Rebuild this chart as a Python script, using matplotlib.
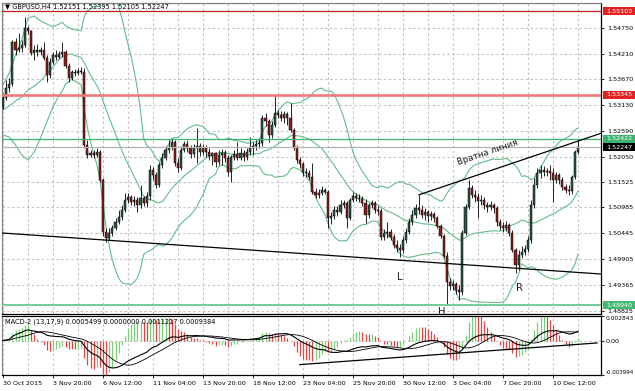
import numpy as np
import pandas as pd
import matplotlib
matplotlib.use("Agg")
import matplotlib.pyplot as plt
from matplotlib.transforms import blended_transform_factory
from matplotlib.patches import Rectangle

plt.rcParams['font.family'] = ['DejaVu Sans']

# ---------------- data ----------------
symbol = "GBPUSD,H4"

opens = [
    1.5309, 1.5328, 1.5349, 1.5357, 1.5445, 1.5429, 1.5433, 1.5439, 1.5475, 1.5468,
    1.5422, 1.5429, 1.5424, 1.5429, 1.5412, 1.5376, 1.5403, 1.5418, 1.5414, 1.5420,
    1.5424, 1.5395, 1.5370, 1.5382, 1.5380, 1.5385, 1.5382, 1.5229, 1.5209, 1.5213,
    1.5209, 1.5215, 1.5156, 1.5047, 1.5035, 1.5045, 1.5056, 1.5068, 1.5079, 1.5093,
    1.5114, 1.5120, 1.5110, 1.5114, 1.5104, 1.5118, 1.5108, 1.5123, 1.5177, 1.5167,
    1.5146, 1.5188, 1.5202, 1.5219, 1.5225, 1.5236, 1.5192, 1.5181, 1.5219, 1.5232,
    1.5223, 1.5211, 1.5223, 1.5227, 1.5215, 1.5223, 1.5215, 1.5206, 1.5213, 1.5194,
    1.5209, 1.5213, 1.5202, 1.5173, 1.5204, 1.5211, 1.5202, 1.5213, 1.5204, 1.5215,
    1.5223, 1.5227, 1.5232, 1.5234, 1.5286, 1.5280, 1.5250, 1.5271, 1.5297, 1.5292,
    1.5286, 1.5294, 1.5286, 1.5261, 1.5223, 1.5198, 1.5190, 1.5173, 1.5171, 1.5162,
    1.5131, 1.5125, 1.5129, 1.5135, 1.5131, 1.5076, 1.5081, 1.5093, 1.5089, 1.5104,
    1.5108, 1.5076, 1.5114, 1.5123, 1.5118, 1.5116, 1.5108, 1.5083, 1.5104, 1.5108,
    1.5093, 1.5091, 1.5037, 1.5045, 1.5047, 1.5037, 1.5020, 1.5014, 1.5009, 1.5030,
    1.5047, 1.5068, 1.5083, 1.5097, 1.5093, 1.5083, 1.5089, 1.5081, 1.5085, 1.5076,
    1.5060, 1.5039, 1.4997, 1.4942, 1.4934, 1.4938, 1.4926, 1.4921, 1.5045, 1.5100,
    1.5139, 1.5125, 1.5120, 1.5112, 1.5114, 1.5104, 1.5100, 1.5104, 1.5097, 1.5068,
    1.5060, 1.5056, 1.5062, 1.5045, 1.5009, 1.4978, 1.4999, 1.5005, 1.5011, 1.5030,
    1.5104, 1.5146, 1.5171, 1.5177, 1.5173, 1.5175, 1.5171, 1.5156, 1.5167, 1.5156,
    1.5141, 1.5135, 1.5133, 1.5162, 1.52151]

highs = [
    1.5338, 1.5366, 1.5370, 1.5450, 1.5454, 1.5464, 1.5450, 1.5498, 1.5479, 1.5471,
    1.5439, 1.5441, 1.5435, 1.5445, 1.5418, 1.5412, 1.5424, 1.5429, 1.5427, 1.5445,
    1.5429, 1.5401, 1.5387, 1.5389, 1.5391, 1.5393, 1.5391, 1.5240, 1.5219, 1.5219,
    1.5223, 1.5219, 1.5160, 1.5056, 1.5056, 1.5062, 1.5076, 1.5093, 1.5104, 1.5129,
    1.5129, 1.5125, 1.5123, 1.5120, 1.5146, 1.5123, 1.5131, 1.5188, 1.5183, 1.5173,
    1.5194, 1.5213, 1.5227, 1.5240, 1.5244, 1.5240, 1.5202, 1.5227, 1.5238, 1.5240,
    1.5229, 1.5232, 1.5265, 1.5234, 1.5232, 1.5229, 1.5223, 1.5215, 1.5215, 1.5219,
    1.5221, 1.5219, 1.5209, 1.5209, 1.5219, 1.5236, 1.5223, 1.5219, 1.5223, 1.5246,
    1.5236, 1.5240, 1.5244, 1.5292, 1.5297, 1.5284, 1.5280, 1.5334, 1.5303, 1.5301,
    1.5301, 1.5299, 1.5318, 1.5265, 1.5229, 1.5204, 1.5194, 1.5181, 1.5177, 1.5192,
    1.5139, 1.5137, 1.5144, 1.5139, 1.5135, 1.5089, 1.5102, 1.5102, 1.5114, 1.5114,
    1.5112, 1.5118, 1.5131, 1.5129, 1.5127, 1.5123, 1.5116, 1.5108, 1.5114, 1.5112,
    1.5102, 1.5097, 1.5053, 1.5068, 1.5053, 1.5043, 1.5030, 1.5022, 1.5039, 1.5056,
    1.5076, 1.5093, 1.5106, 1.5125, 1.5104, 1.5097, 1.5093, 1.5091, 1.5089, 1.5081,
    1.5064, 1.5043, 1.5005, 1.4951, 1.4947, 1.4942, 1.4936, 1.5051, 1.5106, 1.5156,
    1.5146, 1.5135, 1.5129, 1.5125, 1.5120, 1.5110, 1.5112, 1.5108, 1.5102, 1.5074,
    1.5068, 1.5070, 1.5066, 1.5051, 1.5014, 1.5009, 1.5018, 1.5020, 1.5039, 1.5114,
    1.5160, 1.5181, 1.5188, 1.5185, 1.5181, 1.5188, 1.5181, 1.5173, 1.5171, 1.5162,
    1.5148, 1.5146, 1.5167, 1.5219, 1.52395]

lows = [
    1.5305, 1.5324, 1.5341, 1.5353, 1.5418, 1.5424, 1.5424, 1.5435, 1.5462, 1.5418,
    1.5408, 1.5416, 1.5418, 1.5408, 1.5362, 1.5370, 1.5399, 1.5408, 1.5410, 1.5414,
    1.5391, 1.5362, 1.5366, 1.5374, 1.5376, 1.5378, 1.5223, 1.5202, 1.5204, 1.5202,
    1.5204, 1.5152, 1.5039, 1.5026, 1.5030, 1.5039, 1.5051, 1.5064, 1.5072, 1.5089,
    1.5108, 1.5104, 1.5102, 1.5089, 1.5097, 1.5102, 1.5100, 1.5114, 1.5156, 1.5139,
    1.5141, 1.5181, 1.5198, 1.5213, 1.5219, 1.5185, 1.5173, 1.5177, 1.5215, 1.5215,
    1.5202, 1.5204, 1.5192, 1.5206, 1.5209, 1.5204, 1.5198, 1.5188, 1.5183, 1.5188,
    1.5188, 1.5194, 1.5165, 1.5152, 1.5198, 1.5198, 1.5198, 1.5196, 1.5198, 1.5209,
    1.5209, 1.5219, 1.5223, 1.5227, 1.5269, 1.5236, 1.5244, 1.5267, 1.5286, 1.5280,
    1.5276, 1.5271, 1.5257, 1.5219, 1.5192, 1.5181, 1.5165, 1.5162, 1.5156, 1.5127,
    1.5118, 1.5118, 1.5125, 1.5127, 1.5056, 1.5064, 1.5074, 1.5081, 1.5085, 1.5097,
    1.5056, 1.5072, 1.5110, 1.5112, 1.5110, 1.5102, 1.5066, 1.5076, 1.5097, 1.5087,
    1.5083, 1.5030, 1.5030, 1.5035, 1.5030, 1.5014, 1.5005, 1.4995, 1.5003, 1.5024,
    1.5043, 1.5062, 1.5076, 1.5085, 1.5076, 1.5072, 1.5068, 1.5072, 1.5068, 1.5056,
    1.5035, 1.4993, 1.4894, 1.4926, 1.4926, 1.4917, 1.4905, 1.4915, 1.5041, 1.5095,
    1.5118, 1.5110, 1.5076, 1.5104, 1.5095, 1.5089, 1.5093, 1.5087, 1.5060, 1.5051,
    1.5047, 1.5049, 1.5039, 1.5005, 1.4961, 1.4967, 1.4993, 1.4999, 1.5005, 1.5024,
    1.5097, 1.5139, 1.5160, 1.5165, 1.5165, 1.5156, 1.5110, 1.5150, 1.5148, 1.5135,
    1.5129, 1.5125, 1.5127, 1.5158, 1.52105]

closes = [
    1.5328, 1.5349, 1.5357, 1.5445, 1.5429, 1.5433, 1.5439, 1.5475, 1.5468, 1.5422,
    1.5429, 1.5424, 1.5429, 1.5412, 1.5376, 1.5403, 1.5418, 1.5414, 1.5420, 1.5424,
    1.5395, 1.5370, 1.5382, 1.5380, 1.5385, 1.5382, 1.5229, 1.5209, 1.5213, 1.5209,
    1.5215, 1.5156, 1.5047, 1.5035, 1.5045, 1.5056, 1.5068, 1.5079, 1.5093, 1.5114,
    1.5120, 1.5110, 1.5114, 1.5104, 1.5118, 1.5108, 1.5123, 1.5177, 1.5167, 1.5146,
    1.5188, 1.5202, 1.5219, 1.5225, 1.5236, 1.5192, 1.5181, 1.5219, 1.5232, 1.5223,
    1.5211, 1.5223, 1.5227, 1.5215, 1.5223, 1.5215, 1.5206, 1.5213, 1.5194, 1.5209,
    1.5213, 1.5202, 1.5173, 1.5204, 1.5211, 1.5202, 1.5213, 1.5204, 1.5215, 1.5223,
    1.5227, 1.5232, 1.5234, 1.5286, 1.5280, 1.5250, 1.5271, 1.5297, 1.5292, 1.5286,
    1.5294, 1.5286, 1.5261, 1.5223, 1.5198, 1.5190, 1.5173, 1.5171, 1.5162, 1.5131,
    1.5125, 1.5129, 1.5135, 1.5131, 1.5076, 1.5081, 1.5093, 1.5089, 1.5104, 1.5108,
    1.5076, 1.5114, 1.5123, 1.5118, 1.5116, 1.5108, 1.5083, 1.5104, 1.5108, 1.5093,
    1.5091, 1.5037, 1.5045, 1.5047, 1.5037, 1.5020, 1.5014, 1.5009, 1.5030, 1.5047,
    1.5068, 1.5083, 1.5097, 1.5093, 1.5083, 1.5089, 1.5081, 1.5085, 1.5076, 1.5060,
    1.5039, 1.4997, 1.4942, 1.4934, 1.4938, 1.4926, 1.4921, 1.5045, 1.5100, 1.5139,
    1.5125, 1.5120, 1.5112, 1.5114, 1.5104, 1.5100, 1.5104, 1.5097, 1.5068, 1.5060,
    1.5056, 1.5062, 1.5045, 1.5009, 1.4978, 1.4999, 1.5005, 1.5011, 1.5030, 1.5104,
    1.5146, 1.5171, 1.5177, 1.5173, 1.5175, 1.5171, 1.5156, 1.5167, 1.5156, 1.5141,
    1.5135, 1.5133, 1.5162, 1.5215, 1.52247]

date_label_bars = [0, 16, 32, 48, 64, 80, 96, 112, 128, 144, 160, 176]
date_labels = ["30 Oct 2015", "3 Nov 20:00", "6 Nov 12:00", "11 Nov 04:00",
               "13 Nov 20:00", "18 Nov 12:00", "23 Nov 04:00", "25 Nov 20:00",
               "30 Nov 12:00", "3 Dec 04:00", "7 Dec 20:00", "10 Dec 12:00"]

price_ticks = [1.54750, 1.54210, 1.53670, 1.53130, 1.52590, 1.52050,
               1.51525, 1.50985, 1.50445, 1.49905, 1.49365, 1.48825]
price_range = [1.48752, 1.55271]

# horizontal levels: top resistance, resistance, green level, bid, support
level_prices = [1.55103, 1.53345, 1.52422, 1.52247, 1.48940]

# Bollinger band values read for the first bars (no history before them)
bb_head_bars = [0, 2, 4, 6, 8, 10, 12, 14, 16, 18]
bb_head_upper = [1.53552, 1.53804, 1.54181, 1.54496, 1.54957, 1.54999, 1.54894, 1.54831, 1.54768, 1.54831]
bb_head_mid = [1.53028, 1.53112, 1.53217, 1.53301, 1.53448, 1.53531, 1.53636, 1.53783, 1.53930, 1.54097]
bb_head_lower = [1.52504, 1.52462, 1.52295, 1.52085, 1.51980, 1.52148, 1.52442, 1.52777, 1.53091, 1.53343]
bb_period, bb_dev = 20, 2.0

support_bars = [-0.32, 191.36]
support_prices = [1.5045, 1.4959]
neck_bars = [133.1, 191.36]
neck_prices = [1.5125, 1.5254]
neck_text = "Вратна линия"
neck_text_bar, neck_text_price = 155.2, 1.5213

pattern_labels = ["L", "H", "R"]
pattern_bars = [127.0, 140.5, 165.4]
pattern_prices = [1.4953, 1.4880, 1.4930]

macd_fast, macd_slow, macd_sig = 13, 17, 9
macd_readout = [0.0005499, 0.0000000, 0.0011217, 0.0009384]
macd_scale = [0.002843, 0.0, -0.003994]
macd_scale_labels = ["0.002843", "0.00", "-0.003994"]
macd_trend_bars = [95.0, 190.1]
macd_trend_vals = [-0.00279, -0.00028]

# ---------------- derived series ----------------
o = np.array(opens); h = np.array(highs); l = np.array(lows); c = np.array(closes)
bars = np.arange(len(c))
cs = pd.Series(c)
mid = cs.rolling(bb_period).mean()
sd = cs.rolling(bb_period).std(ddof=0)
up = mid + bb_dev * sd
lo = mid - bb_dev * sd
start = bb_period - 1
bb_x = list(bb_head_bars) + list(bars[start:])
bb_up = list(bb_head_upper) + list(up[start:])
bb_mid = list(bb_head_mid) + list(mid[start:])
bb_lo = list(bb_head_lower) + list(lo[start:])

ema_f = cs.ewm(span=macd_fast, adjust=False).mean()
ema_s = cs.ewm(span=macd_slow, adjust=False).mean()
macd = ema_f - ema_s
signal = macd.rolling(macd_sig, min_periods=1).mean()
hist = 3.0 * (macd - signal)
rising = hist.diff().fillna(0) >= 0

# ---------------- figure ----------------
W, H = 635, 391
fig = plt.figure(figsize=(W / 100, H / 100), dpi=100)
fig.patch.set_facecolor('white')
ax = fig.add_axes([2 / W, (H - 314) / H, 599 / W, 311 / H])
ax2 = fig.add_axes([2 / W, (H - 375) / H, 599 / W, 59 / H], sharex=ax)

xlim = (-0.32, 191.36)
grid_kw = dict(color='#c4c4c4', linestyle=(0, (2.2, 2.2)), linewidth=0.8)
fs = 4.6

for a in (ax, ax2):
    a.set_facecolor('white')
    for s in ('top', 'bottom', 'right'):
        a.spines[s].set_color('black')
        a.spines[s].set_linewidth(0.9)
    a.spines['left'].set_color('#808080')
    a.spines['left'].set_linewidth(0.8)
    a.yaxis.tick_right()
    a.tick_params(axis='y', which='both', direction='out', length=2.5, width=0.6,
                  pad=2.2, labelsize=fs, colors='black', left=False, right=True)
    a.set_xticks(np.arange(0, 191, 8), minor=True)
    a.grid(True, axis='x', which='both', **grid_kw)
    a.set_axisbelow(True)
ax.spines['top'].set_color('#808080')

ax.set_xlim(*xlim)
ax.set_ylim(*price_range)
ax.set_yticks(price_ticks)
ax.set_yticklabels([f"{p:.5f}" for p in price_ticks])
ax.grid(True, axis='y', **grid_kw)
ax.tick_params(axis='x', which='both', bottom=False, labelbottom=False)

# Bollinger bands
bb_color = '#62bd8a'
for band in (bb_up, bb_mid, bb_lo):
    ax.plot(bb_x, band, color=bb_color, lw=0.8, zorder=2)

# candles
body_colors = np.where(c >= o, '#2f5545', '#8f1d1d')
ax.vlines(bars, l, h, color='black', lw=0.6, zorder=3)
ax.bar(bars, c - o, bottom=o, width=0.66, color=body_colors,
       edgecolor='black', linewidth=0.35, zorder=4)

# horizontal levels
line_styles = [('#c41e1e', 0.9), ('#f07a78', 1.9), ('#3cb371', 0.9), ('#b4b4b4', 0.9), ('#76c99a', 1.4)]
box_colors = ['#e52222', '#e52222', '#3cb371', '#000000', '#45b874']
for p, (lc, lw) in zip(level_prices, line_styles):
    ax.axhline(p, color=lc, lw=lw, zorder=5)

# trend lines
ax.plot(support_bars, support_prices, color='black', lw=0.9, zorder=6)
ax.plot(neck_bars, neck_prices, color='black', lw=0.9, zorder=6)
ax.text(neck_text_bar, neck_text_price, neck_text, fontsize=6.3, color='#202020',
        rotation=18.8, rotation_mode='anchor', ha='center', va='center', zorder=7)
for lab, b, p in zip(pattern_labels, pattern_bars, pattern_prices):
    ax.text(b, p, lab, fontsize=7.2, color='#202020', ha='center', va='center', zorder=7)

# right side price boxes
trans = blended_transform_factory(ax.transAxes, ax.transData)
box_h = 0.00172
for p, bc in zip(level_prices, box_colors):
    ax.add_patch(Rectangle((1.0035, p - box_h / 2), 0.07, box_h, transform=trans,
                           facecolor=bc, edgecolor='none', clip_on=False, zorder=20))
    ax.text(1.0085, p, f"{p:.5f}", transform=trans, color='white', fontsize=fs,
            ha='left', va='center', clip_on=False, zorder=21)

# title
title = f"\u25bc {symbol} {opens[-1]:.5f} {highs[-1]:.5f} {lows[-1]:.5f} {closes[-1]:.5f}"
ax.text(0.005, 1 - 1.2 / 311, title, transform=ax.transAxes, fontsize=fs + 0.2,
        ha='left', va='top', color='black', zorder=22)

# ---------------- MACD panel ----------------
ax2.set_ylim(macd_scale[2], macd_scale[0])
ax2.set_yticks(macd_scale)
ax2.set_yticklabels(macd_scale_labels)
ax2.tick_params(axis='y', pad=1.0)
tl = ax2.get_yticklabels()
tl[0].set_verticalalignment('top')
tl[0].set_fontsize(4.3)
tl[2].set_verticalalignment('bottom')
tl[2].set_fontsize(4.0)
ax2.axhline(0, **grid_kw, zorder=1)
hist_colors = np.where(rising, '#78cf78', '#dd4646')
ax2.vlines(bars, 0, hist.values, colors=hist_colors, lw=0.9, zorder=2)
ax2.plot(bars, macd.values, color='black', lw=0.8, zorder=3)
ax2.plot(bars, signal.values, color='black', lw=0.6, zorder=3)
ax2.plot(macd_trend_bars, macd_trend_vals, color='black', lw=0.9, zorder=4)
ax2.text(0.005, 1 - 2.5 / 59,
         f"MACD-2 ({macd_fast},{macd_slow},{macd_sig}) " + " ".join(f"{v:.7f}" for v in macd_readout),
         transform=ax2.transAxes, fontsize=fs + 0.2, ha='left', va='top', color='black', zorder=10)

ax2.set_xticks(date_label_bars)
ax2.set_xticklabels(date_labels, ha='left')
ax2.tick_params(axis='x', which='major', direction='out', length=2.5, width=0.6,
                pad=1.5, labelsize=fs, colors='black')
ax2.tick_params(axis='x', which='minor', length=0)

fig.savefig("out.png", dpi=100, facecolor='white')
